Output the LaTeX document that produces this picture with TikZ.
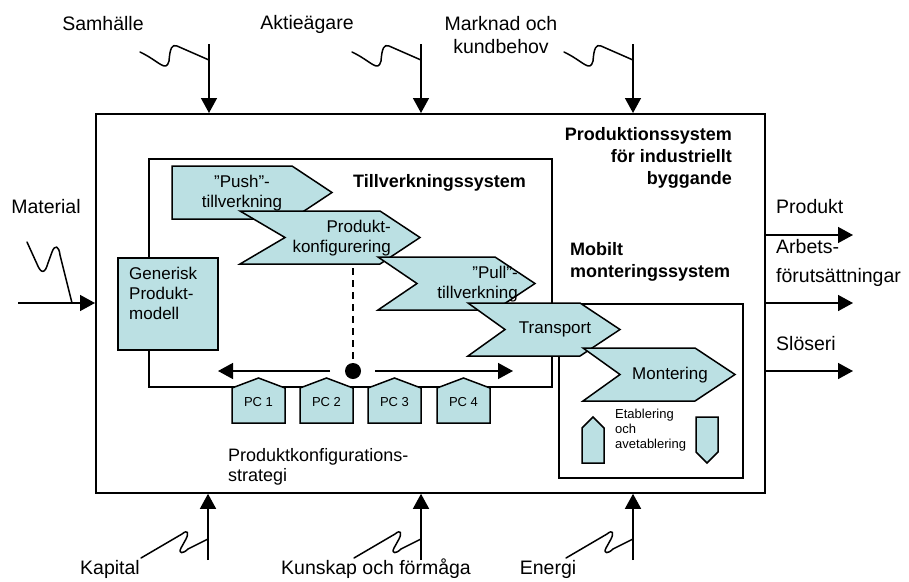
\documentclass[tikz,border=0pt]{standalone}
\usepackage{fontspec}
\setmainfont{Liberation Sans}
\usetikzlibrary{arrows.meta}
\definecolor{chevfill}{RGB}{187,224,227}
\newcommand\mychev[4]{\path[chevstyle] (#1,#2) -- (#3,#2) -- ++(40,26.5) -- ++(-40,26.5) -- (#1,#2+53) -- ++(#4,-26.5) -- cycle;}
\newcommand\mypc[2]{\path[chevstyle] (#1,423) -- (#1,388) -- (#1+26.5,378) -- (#1+53,388) -- (#1+53,423) -- cycle;
  \node[small] (pc#2) at (#1+26.5,402) {PC #2};}
\begin{document}
\begin{tikzpicture}[x=1pt,y=-1pt,
  box/.style={draw, line width=1.8pt, inner sep=0pt, anchor=north west},
  arr/.style={line width=1.5pt, -{Triangle[length=15pt,width=16pt]}},
  sq/.style={line width=1.5pt, line join=round, line cap=round},
  chevstyle/.style={draw, fill=chevfill, line width=1.5pt, line join=miter},
  big/.style={font=\fontsize{19.5}{23}\selectfont, inner sep=0pt},
  mid/.style={font=\fontsize{17}{20}\selectfont, inner sep=0pt},
  bold/.style={font=\fontsize{18}{22}\selectfont\bfseries, inner sep=0pt},
  small/.style={font=\fontsize{13}{15}\selectfont, inner sep=0pt},
]
\useasboundingbox (0,0) rectangle (909,581);

% main boxes
\node[box, minimum width=669pt, minimum height=379pt] (sys) at (95,113) {};
\node[box, minimum width=403pt, minimum height=228pt] (tv) at (148,158) {};
\node[box, minimum width=184pt, minimum height=174pt] (mm) at (558,303) {};
\node[box, fill=chevfill, minimum width=100pt, minimum height=92pt] (gen) at (117,257) {};
\node[mid, align=left, anchor=west] (gent) at (129,293) {Generisk\\Produkt-\\modell};

% titles
\node[bold, align=right, anchor=east] (systitle) at (732,157.5) {Produktionssystem\\för industriellt\\byggande};
\node[bold, anchor=west] (tvtitle) at (353,183) {Tillverkningssystem};
\node[bold, align=left, anchor=west] (mmtitle) at (570,262) {Mobilt\\monteringssystem};

% chevrons
\mychev{172}{166}{292}{0}
\node[mid, align=center] (push) at (242,193) {”Push”-\\tillverkning};
\mychev{240}{211}{380}{45}
\node[mid, align=right, anchor=east] (pk) at (391,238) {Produkt-\\konfigurering};
\mychev{378}{257}{495}{39}
\node[mid, align=right, anchor=east] (pull) at (518,284) {”Pull”-\\tillverkning\hspace{11pt}};
\mychev{468}{303}{580}{37}
\node[mid] (trans) at (555,329) {Transport};
\mychev{583}{348}{695}{37}
\node[mid] (mont) at (670,375) {Montering};

% product configuration
\node[circle, fill=black, minimum size=16pt, inner sep=0pt] (dot) at (353,371) {};
\coordinate (pkb) at (353,268);
\draw[line width=1.5pt, dash pattern=on 7pt off 5pt] (pkb) -- (dot.north);
\coordinate (dl) at (218,371);
\coordinate (dr) at (513,371);
\draw[arr] ([xshift=-23pt]dot.center) -- (dl);
\draw[arr] ([xshift=22pt]dot.center) -- (dr);
\mypc{232}{1}
\mypc{300}{2}
\mypc{368}{3}
\mypc{437}{4}
\node[font=\fontsize{18}{20}\selectfont, inner sep=0pt, align=left, anchor=west] (pks) at (228,467) {Produktkonfigurations-\\strategi};

% etablering
\path[chevstyle] (582,463) -- (582,428) -- (593,417) -- (604,428) -- (604,463) -- cycle;
\path[chevstyle] (696,417) -- (718,417) -- (718,452) -- (707,463) -- (696,452) -- cycle;
\node[small, align=left, anchor=west] (etab) at (615,430) {Etablering\\och\\avetablering};

% top inputs
\node[big] (samh) at (103,24) {Samhälle};
\node[big] (akt) at (307,24) {Aktieägare};
\node[big, align=center] (mark) at (501,35.5) {Marknad och\\kundbehov};
\coordinate (tS) at (209,44);
\coordinate (tA) at (421,44);
\coordinate (tM) at (633,44);
\draw[arr] (tS) -- (tS |- sys.north);
\draw[arr] (tA) -- (tA |- sys.north);
\draw[arr] (tM) -- (tM |- sys.north);
\foreach \jx in {209,421,633}{
  \begin{scope}[shift={(\jx,60)}]
    \draw[sq] (-69,-8) .. controls (-50,1) and (-43,13) .. (-40,1) .. controls (-39,-12) and (-37,-16) .. (-32,-14) -- (0,0);
  \end{scope}
}

% bottom inputs
\node[big] (kap) at (110,569) {Kapital};
\node[big] (kun) at (376,569) {Kunskap och förmåga};
\node[big] (ene) at (548,569) {Energi};
\coordinate (bK) at (208,560);
\coordinate (bU) at (421,560);
\coordinate (bE) at (633,560);
\draw[arr] (bK) -- (bK |- sys.south);
\draw[arr] (bU) -- (bU |- sys.south);
\draw[arr] (bE) -- (bE |- sys.south);
\foreach \jx in {208,421,633}{
  \begin{scope}[shift={(\jx,539)}]
    \draw[sq] (-67,19) -- (-26,-5) .. controls (-20,-10) and (-19,-6) .. (-22,0) -- (-27,9) .. controls (-30,15) and (-25,15) .. (-20,10) -- (0,0);
  \end{scope}
}

% left input
\node[big] (mat) at (46,207) {Material};
\coordinate (inM) at (18,303);
\draw[arr] (inM) -- (inM -| sys.west);
\begin{scope}[shift={(72,303)}]
  \draw[sq] (-45,-61) -- (-35,-39) .. controls (-31,-29) and (-27,-29) .. (-24,-40) -- (-20,-51) .. controls (-17,-59) and (-13,-57) .. (-12,-48) -- (0,0);
\end{scope}

% outputs
\node[big, anchor=west] (prod) at (776,207) {Produkt};
\node[big, anchor=west, align=left, font=\fontsize{19.5}{29}\selectfont] (arb) at (776,262.5) {Arbets-\\förutsättningar};
\node[big, anchor=west] (slo) at (776,344) {Slöseri};
\coordinate (oP) at (853,235);
\coordinate (oA) at (853,303);
\coordinate (oS) at (853,371);
\draw[arr] (oP -| sys.east) -- (oP);
\draw[arr] (oA -| sys.east) -- (oA);
\draw[arr] (oS -| sys.east) -- (oS);
\end{tikzpicture}
\end{document}
